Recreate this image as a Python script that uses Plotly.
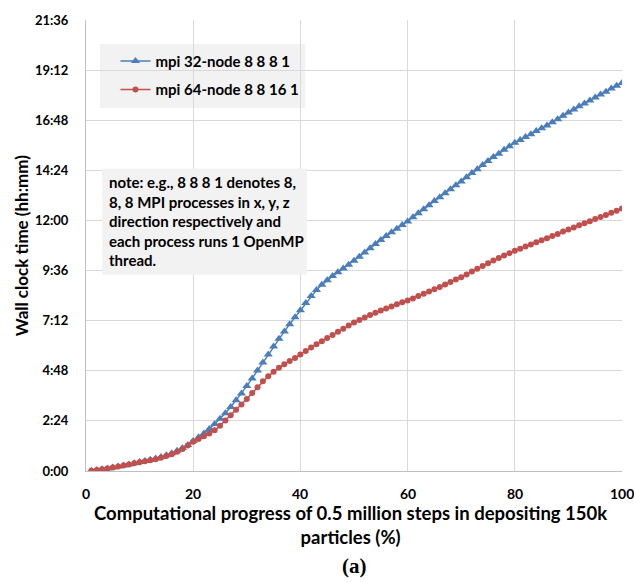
import plotly.graph_objects as go

progress = list(range(1, 101))

mpi32_minutes = [1, 3, 5, 7, 10, 13, 16, 19, 22, 26,
                 29, 32, 36, 40, 45, 51, 58, 66, 75, 86,
                 97, 108, 121, 135, 150, 166, 184, 203, 223, 244,
                 266, 289, 312, 335, 358, 380, 401, 422, 442, 462,
                 483, 503, 520, 535, 548, 560, 571, 582, 593, 604,
                 616, 628, 640, 652, 664, 675, 686, 696, 707, 717,
                 729, 741, 752, 764, 776, 787, 798, 810, 821, 832,
                 844, 856, 867, 879, 891, 902, 912, 923, 933, 943,
                 951, 960, 968, 977, 985, 993, 1002, 1011, 1021, 1030,
                 1039, 1048, 1056, 1065, 1073, 1082, 1090, 1099, 1107, 1115]

mpi64_minutes = [1, 3, 5, 7, 10, 13, 16, 19, 22, 25,
                 28, 31, 34, 38, 43, 48, 55, 63, 73, 84,
                 92, 100, 108, 117, 130, 145, 160, 176, 191, 207,
                 224, 241, 258, 272, 285, 297, 307, 316, 325, 335,
                 345, 355, 364, 373, 382, 391, 400, 409, 418, 427,
                 434, 441, 448, 455, 461, 467, 473, 479, 485, 490,
                 496, 503, 509, 516, 522, 529, 536, 543, 550, 557,
                 565, 573, 581, 589, 597, 605, 612, 619, 626, 633,
                 639, 645, 651, 657, 663, 669, 675, 681, 688, 694,
                 700, 706, 712, 718, 724, 730, 736, 742, 748, 754]

y_tick_minutes = [0, 144, 288, 432, 576, 720, 864, 1008, 1152, 1296]
y_tick_labels = ["0:00", "2:24", "4:48", "7:12", "9:36", "12:00", "14:24", "16:48", "19:12", "21:36"]
x_ticks = [0, 20, 40, 60, 80, 100]

series_names = ["mpi 32-node 8 8 8 1", "mpi 64-node 8 8 16 1"]
note_text = ("note: e.g., 8 8 8 1 denotes 8,<br>8, 8 MPI processes in x, y, z<br>"
             "direction respectively and<br>each process runs 1 OpenMP<br>thread.")

FONT = "Lato"
BLUE = "#4a7ebb"
RED = "#c0504d"

fig = go.Figure()
fig.add_trace(go.Scatter(x=progress, y=mpi32_minutes, mode="lines+markers", name=series_names[0],
                         legendgroup="a",
                         line=dict(color=BLUE, width=1.5),
                         marker=dict(symbol="triangle-up", size=8, color=BLUE)))
fig.add_trace(go.Scatter(x=progress, y=mpi64_minutes, mode="lines+markers", name=series_names[1],
                         legendgroup="b",
                         line=dict(color=RED, width=1.5),
                         marker=dict(symbol="circle", size=6, color=RED)))

fig.update_layout(
    width=634, height=582,
    margin=dict(l=86, r=12, t=20, b=111),
    plot_bgcolor="white", paper_bgcolor="white",
    font=dict(family=FONT, size=13, color="black"),
    showlegend=True,
    legend=dict(x=0.055, y=0.945, xanchor="left", yanchor="top", bgcolor="rgba(0,0,0,0)",
                font=dict(family=FONT, size=15, color="black", weight="bold"),
                tracegroupgap=6, itemwidth=30),
)
fig.update_xaxes(range=[0, 100], tickvals=x_ticks, showgrid=True, gridcolor="#d9d9d9", gridwidth=1,
                 showline=True, linecolor="#bfbfbf", linewidth=1, zeroline=False,
                 ticks="", showticklabels=False)
fig.update_yaxes(range=[0, 1296], tickvals=y_tick_minutes, ticktext=y_tick_labels,
                 showgrid=True, gridcolor="#d9d9d9", gridwidth=1,
                 showline=True, linecolor="#bfbfbf", linewidth=1, zeroline=False,
                 ticks="", tickfont=dict(family=FONT, size=13, weight="bold"), ticklabelstandoff=14)

# x tick labels (drawn as annotations so that "100" at the right edge is kept)
for xv in x_ticks:
    fig.add_annotation(xref="x", yref="paper", x=xv, y=0, yshift=-12, xanchor="center", yanchor="top",
                       text=str(xv), showarrow=False,
                       font=dict(family=FONT, size=14, color="black", weight="bold"))

# legend box and note box
fig.add_shape(type="rect", xref="paper", yref="paper", x0=0.026, x1=0.409, y0=0.805, y1=0.947,
              fillcolor="#f2f2f2", line=dict(width=0), layer="below")
fig.add_shape(type="rect", xref="paper", yref="paper", x0=0.030, x1=0.412, y0=0.435, y1=0.670,
              fillcolor="#f2f2f2", line=dict(width=0), layer="above")
fig.add_annotation(xref="paper", yref="paper", x=0.040, y=0.665, xanchor="left", yanchor="top",
                   text=note_text, showarrow=False, align="left",
                   font=dict(family=FONT, size=15, color="black", weight="bold"))

# axis titles
fig.add_annotation(xref="paper", yref="paper", x=0.493, y=-0.064, xanchor="center", yanchor="top",
                   text="Computational progress of 0.5 million steps in depositing 150k<br>particles (%)",
                   showarrow=False, font=dict(family=FONT, size=18.5, color="black", weight="bold"))
fig.add_annotation(xref="paper", yref="paper", x=-0.12, y=0.5, xanchor="center", yanchor="middle",
                   text="Wall clock time (hh:mm)", textangle=-90, showarrow=False,
                   font=dict(family=FONT, size=17, color="black", weight="bold"))
fig.add_annotation(xref="paper", yref="paper", x=0.50, y=-0.180, xanchor="center", yanchor="top",
                   text="(a)", showarrow=False,
                   font=dict(family="Liberation Serif", size=21, color="black", weight="bold"))

fig.write_html("out.html")
